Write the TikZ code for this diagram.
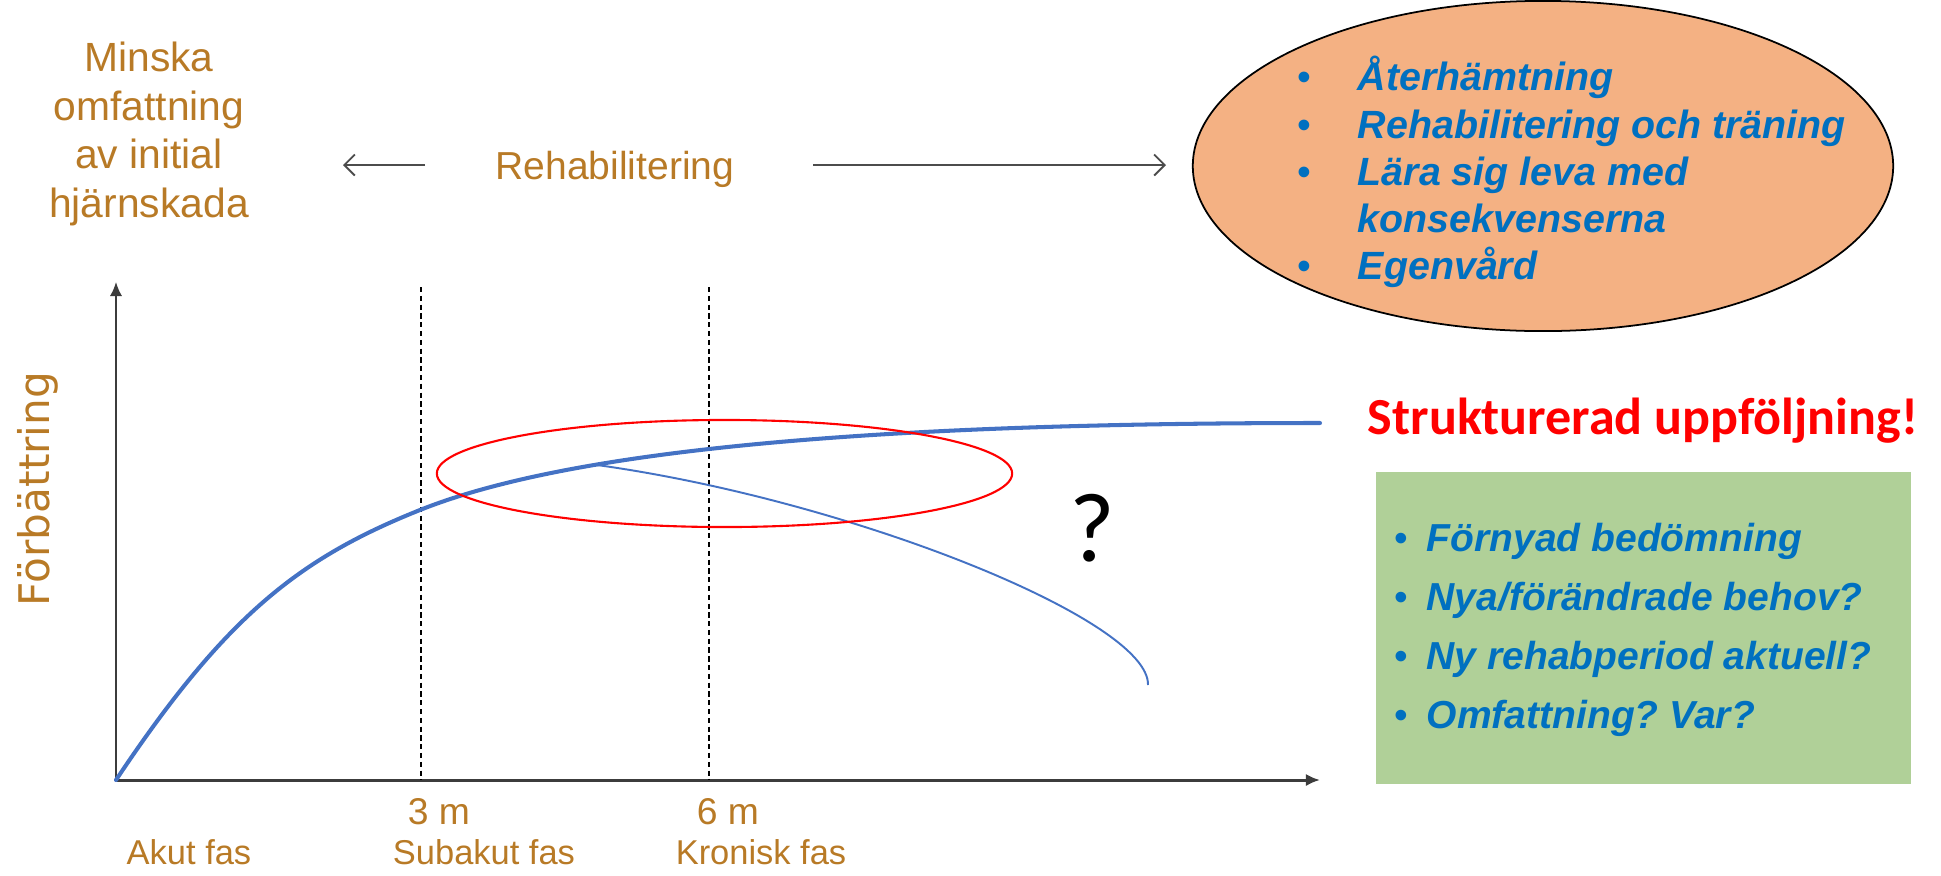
\documentclass[tikz,border=0pt]{standalone}
\usepackage{fontspec}
\setmainfont{Liberation Sans}
\newfontfamily\calib{Carlito}
\newfontfamily\dejavu{DejaVu Sans}
\usetikzlibrary{shapes.geometric,arrows.meta}
\definecolor{brtxt}{RGB}{184,122,38}
\definecolor{bluetxt}{RGB}{0,112,192}
\definecolor{curveblue}{RGB}{68,114,196}
\definecolor{orangefill}{RGB}{244,177,131}
\definecolor{greenfill}{RGB}{176,208,152}
\definecolor{axisgray}{RGB}{60,60,60}
\tikzset{
  brown label/.style={text=brtxt, inner sep=0pt},
  axisline/.style={draw=axisgray, -{Latex[length=4pt,width=3.5pt]}},
  dashline/.style={draw=black, line width=0.45pt, dash pattern=on 1.5pt off 1pt},
  thinarrow/.style={draw=black!70, line width=0.55pt, -{Straight Barb[length=3pt,width=6pt]}},
  bulletbox/.style={text=bluetxt, inner sep=0pt, anchor=west, align=left},
}
\newcommand{\bul}[1]{\makebox[#1][l]{\upshape\mdseries\textbullet}}
\frenchspacing
\begin{document}
\begin{tikzpicture}[x=0.01cm,y=-0.01cm]
\useasboundingbox (0,0) rectangle (1941,875);

% top-left text
\node[brown label, align=center, font=\fontsize{11.6}{13.8}\selectfont] (minska) at (149,134)
  {Minska\\omfattning\\av initial\\hjärnskada};
\node[brown label, anchor=base, font=\fontsize{11.1}{13}\selectfont] (rehab) at (615,179) {Rehabilitering};
\coordinate (lstart) at (425,165);
\coordinate (lend) at (343,165);
\coordinate (rstart) at (813,165);
\coordinate (rend) at (1166,165);
\draw[thinarrow] (lstart) -- (lend);
\draw[thinarrow] (rstart) -- (rend);

% orange ellipse
\node[ellipse, draw=black, line width=0.5pt, fill=orangefill, minimum width=7.0cm, minimum height=3.3cm, inner sep=0pt] (oval) at (1543,166) {};
\node[bulletbox, font=\fontsize{11.2}{13.4}\selectfont\bfseries\itshape] (ovtext) at (1297,172)
  {\bul{17.1pt}Återhämtning\\
   \bul{17.1pt}Rehabilitering och träning\\
   \bul{17.1pt}Lära sig leva med\\
   \hspace*{17.1pt}konsekvenserna\\
   \bul{17.1pt}Egenvård};

% axes
\coordinate (origin) at (116,780);
\coordinate (ytop) at (116,282);
\coordinate (xend) at (1320,780);
\draw[axisline, line width=0.55pt] (origin) -- (ytop);
\draw[axisline, line width=0.85pt] (origin) -- (xend);

% dashed lines
\coordinate (d3t) at (421,287); \coordinate (d3b) at (421,780);
\coordinate (d6t) at (709,287); \coordinate (d6b) at (709,780);
\draw[dashline] (d3t) -- (d3b);
\draw[dashline] (d6t) -- (d6b);

% axis labels
\node[brown label, rotate=90, font=\dejavu\fontsize{12}{14}\selectfont] (ylab) at (38,489) {Förbättring};
\node[brown label, font=\fontsize{10.6}{12}\selectfont] (m3) at (439,812) {3 m};
\node[brown label, font=\fontsize{10.6}{12}\selectfont] (m6) at (728,812) {6 m};
\node[brown label, font=\fontsize{9.8}{12}\selectfont] (akut) at (189,852) {Akut fas};
\node[brown label, font=\fontsize{9.8}{12}\selectfont] (subakut) at (484,852) {Subakut fas};
\node[brown label, font=\fontsize{9.8}{12}\selectfont] (kronisk) at (761,852) {Kronisk fas};

% curves
\coordinate (c0) at (116,780);
\coordinate (c1) at (420,510);
\coordinate (c2) at (1320,423);
\coordinate (b0) at (597,465);
\coordinate (b1) at (1148,685);
\draw[curveblue, line width=1.15pt, line cap=round]
  (c0) .. controls (226,615) and (300,558) .. (c1)
       .. controls (570,450) and (870,423) .. (c2);
\draw[curveblue, line width=0.55pt]
  (b0) .. controls (850,500) and (1150,620) .. (b1);

% red ellipse
\draw[red, line width=0.6pt] (724.5,473.5) ellipse [x radius=2.875cm, y radius=0.535cm];

% question mark
\node[font=\calib\fontsize{28}{30}\selectfont, inner sep=0pt] (q) at (1092,528) {?};

% right side
\node[font=\calib\bfseries\fontsize{14.8}{17}\selectfont, text=red, inner sep=0pt] (struk) at (1643,421) {Strukturerad uppföljning!};
\node[fill=greenfill, minimum width=5.35cm, minimum height=3.12cm, inner sep=0pt] (gbox) at (1643.5,628) {};
\node[bulletbox, font=\fontsize{11.1}{16.8}\selectfont\bfseries\itshape] (gtext) at (1394,630)
  {\bul{9.1pt}Förnyad bedömning\\
   \bul{9.1pt}Nya/förändrade behov?\\
   \bul{9.1pt}Ny rehabperiod aktuell?\\
   \bul{9.1pt}Omfattning? Var?};
\end{tikzpicture}
\end{document}
